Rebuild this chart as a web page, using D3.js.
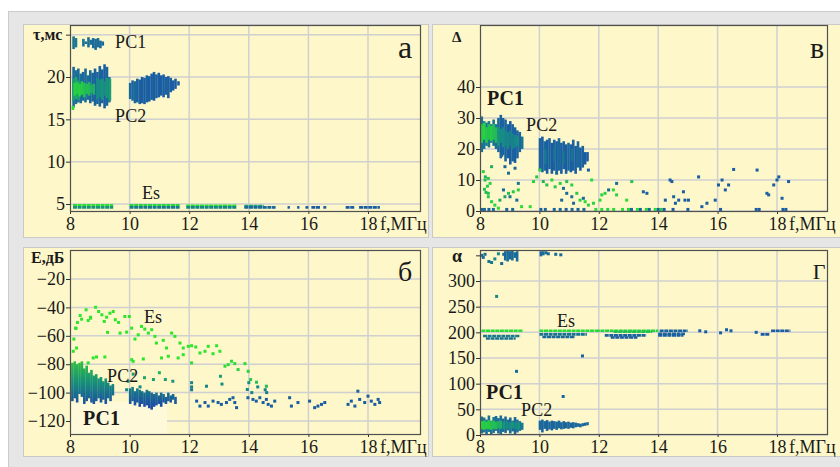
<!DOCTYPE html>
<html>
<head>
<meta charset="utf-8">
<script src="https://cdn.jsdelivr.net/npm/d3@7/dist/d3.min.js"></script>
<style>
body { margin: 0; background: #fff; }
text { font-family: "Liberation Serif", "DejaVu Serif", serif; fill: #1a1a1a; }
</style>
</head>
<body>
<svg id="chart" width="840" height="467"></svg>
<script>
// ticks
var fTicks = [8, 10, 12, 14, 16, 18];
var tauTicks = [5, 10, 15, 20, 25];
var deltaTicks = [0, 10, 20, 30, 40];
var eTicks = [-120, -100, -80, -60, -40, -20];
var alphaTicks = [0, 50, 100, 150, 200, 250, 300, 350];

// panel a: tau(f)   columns [f, lo, hi, c]  (c: 0 blue .. 1 green)
var tauPC1 = [[8.12,23.3,24.8,0.3],[8.2,23.5,24.6,0.35],[8.45,23.6,24.5,0.3],[8.53,23.9,24.2,0.25],
  [8.62,23.5,24.7,0.25],[8.7,23.8,24.4,0.3],[8.78,23.4,24.6,0.2],[8.86,23.2,24.5,0.2],
  [8.94,23.5,24.6,0.25],[9.02,23.4,24.3,0.2],[9.1,23.7,24.2,0.2]];
var tauPC2 = [[8.12,16.4,21.2,0.2],[8.2,16.8,20.8,0.25],[8.28,17.0,21.0,0.2],[8.36,16.9,20.4,0.25],
  [8.44,17.2,20.6,0.2],[8.52,17.0,21.0,0.2],[8.6,17.3,20.2,0.25],[8.68,16.9,20.8,0.2],
  [8.76,17.1,20.5,0.15],[8.84,16.6,21.0,0.15],[8.92,16.8,20.6,0.15],[9.0,16.5,21.3,0.15],
  [9.08,16.9,20.9,0.15],[9.16,16.3,21.5,0.1],[9.24,16.6,21.2,0.15],[9.32,17.0,20.0,0.3],
  [8.12,17.2,19.8,0.6],[8.2,17.4,20.0,0.65],[8.28,17.3,19.6,0.6],[8.92,17.4,19.9,0.5],
  [9.0,17.6,19.7,0.5],[9.08,17.3,19.8,0.55],[9.16,17.8,19.5,0.5],[9.24,17.5,19.9,0.55],[9.34,17.2,19.8,0.6],
  [8.16,17.8,19.3,0.9],[8.24,18.0,19.4,0.85],[8.32,17.7,19.2,0.9],[8.4,17.9,19.5,0.85],
  [8.48,17.6,19.3,0.8],[8.56,18.0,19.2,0.8],[8.64,17.8,19.4,0.75],[8.72,18.1,19.1,0.7],[8.8,17.9,19.2,0.7],
  [8.1,16.1,16.6,0.95],
  [10.02,17.4,19.3,0.2],[10.1,17.2,19.6,0.15],[10.18,16.9,19.5,0.2],[10.26,17.0,19.8,0.1],
  [10.34,16.8,19.7,0.15],[10.42,16.9,20.0,0.1],[10.5,16.8,19.9,0.1],[10.58,17.0,20.2,0.15],
  [10.66,17.1,20.1,0.1],[10.74,17.3,20.4,0.1],[10.82,17.2,20.6,0.1],[10.9,17.5,20.3,0.15],
  [10.98,17.6,20.5,0.1],[11.06,17.8,20.2,0.1],[11.14,17.6,20.3,0.1],[11.22,17.9,20.0,0.15],
  [11.3,17.5,20.1,0.1],[11.38,18.2,19.9,0.1],[11.46,18.4,19.6,0.1],[11.54,18.6,19.8,0.1],[11.64,19.0,19.5,0.1]];
// Es runs [f0, f1, value, c]
var tauEs = [[8.1,9.45,4.85,0.95],[8.1,9.45,4.6,0.55],[10.0,11.7,4.85,0.9],[10.0,11.7,4.6,0.35],
  [11.9,13.6,4.8,0.95],[11.9,13.6,4.6,0.45],[13.85,14.5,4.75,0.6],[13.85,14.9,4.6,0.2],
  [15.3,15.38,4.6,0.1],[15.62,15.7,4.6,0.1],[15.9,16.0,4.6,0.1],[16.1,16.4,4.6,0.1],
  [16.5,16.6,4.6,0.1],[17.25,17.55,4.6,0.1],[17.7,18.4,4.6,0.1]];

// panel в: delta(f)
var deltaPC1 = [[8.06,19,30.5,0.3],[8.14,20,29,0.3],[8.22,21,28.5,0.3],[8.3,20.5,29,0.35],
  [8.38,22,28,0.3],[8.46,21,29.5,0.3],[8.54,20,28,0.25],[8.62,19,30,0.2],[8.7,17,31,0.15],
  [8.78,18,30,0.15],[8.86,16,29.5,0.15],[8.94,17,28,0.1],[9.02,15,29,0.1],[9.1,16,28,0.15],
  [9.18,15.5,27,0.1],[9.26,17,26,0.15],[9.34,19,25.5,0.2],[9.42,20,24,0.3],
  [8.06,22,28,0.85],[8.14,23,28.5,0.9],[8.22,22,27,0.85],[8.3,23,28,0.8],[8.38,22.5,27.5,0.85],
  [8.46,23,28,0.8],[8.54,22,27,0.75],[8.62,21,27,0.55],[8.7,22,26.5,0.5],[8.78,20.5,27,0.5],
  [8.86,21,26,0.45],[8.94,20,25.5,0.45],[9.02,21,26,0.4],[9.1,20,25,0.4],[9.18,20.5,24.5,0.45],[9.26,21,24,0.5]];
var deltaPC2 = [[10.02,13,23.5,0.15],[10.1,12.5,24,0.1],[10.18,13,22.5,0.2],[10.26,12,23,0.1],
  [10.34,13.5,23.5,0.15],[10.42,12,22,0.1],[10.5,13,23,0.15],[10.58,12.5,22.5,0.1],
  [10.66,13,23.5,0.2],[10.74,12,22,0.1],[10.82,13.5,22.5,0.15],[10.9,12,21.5,0.1],
  [10.98,13,22,0.2],[11.06,12.5,21.5,0.1],[11.14,13,23,0.15],[11.22,12,21,0.1],
  [11.3,14,22.5,0.2],[11.38,13,20.5,0.1],[11.46,14,21,0.15],[11.54,15,19,0.1],[11.62,16,19,0.1],
  [10.2,15,20,0.35],[10.5,16,20.5,0.3],[10.8,15,19.5,0.35],[11.1,16,20,0.3]];
// scattered points [f, value, c]
var deltaPoints = [[8.11,12.7,0.9],[8.17,10,0.8],[8.28,10.5,0.85],[8.34,8.9,0.9],[8.39,14.3,0.7],
  [8.28,5.7,0.8],[8.28,4.6,0.85],[8.39,3,0.9],[8.5,1.9,0.9],[8.62,0.9,0.95],[8.67,3.5,0.7],
  [8.84,4.6,0.6],[8.96,5.7,0.8],[9.12,6.2,0.85],[9.29,6.8,0.9],[9.4,1.4,0.95],[9.69,1.4,0.95],
  [9.8,9.5,0.9],[9.91,11,0.85],[10.02,13.2,0.9],[10.13,9.5,0.7],[10.25,8.4,0.8],[10.42,10,0.9],
  [10.53,7.8,0.85],[10.7,8.9,0.9],[10.92,9.5,0.8],[11.09,8.4,0.9],[11.26,5.7,0.85],[11.37,3.5,0.9],
  [11.54,3,0.95],[11.65,1.9,0.9],[11.76,10,0.95],[11.82,2.5,0.9],[12.04,3.5,0.95],[12.1,5.2,0.9],
  [12.21,5.7,0.9],[12.49,6.8,0.95],[12.6,5.2,0.9],[13.11,9.5,0.8],[12.94,3.5,0.95],
  [8.15,7,0.8],[8.2,6,0.75],[8.25,8,0.85],[8.18,11,0.7],
  [11.9,0.5,0.95],[12.1,0.5,0.95],[12.3,0.5,0.9],[12.5,0.5,0.95],[12.8,0.5,0.95],[13.0,0.5,0.9],
  [13.3,0.5,0.95],[13.6,0.5,0.9],[13.9,0.5,0.95],[14.1,0.5,0.85],
  [8.73,18,0.2],[8.84,14.3,0.15],[8.96,12.2,0.25],[9.18,13.8,0.2],[9.29,8.9,0.3],[9.01,4.6,0.3],
  [8.79,6.8,0.2],[9.24,3.5,0.2],[10.58,12.2,0.2],[10.81,7.3,0.25],[10.92,5.7,0.2],[10.75,3.5,0.2],
  [11.09,4.6,0.3],[11.15,2.5,0.2],[11.65,13.2,0.1],[11.48,4.1,0.2],[12.33,6.8,0.2],[12.6,8.9,0.25],
  [13.5,6.2,0.15],[13.62,5.7,0.15],[14.24,3.5,0.1],[14.4,10,0.1],[14.46,9.5,0.1],[14.52,4.6,0.15],
  [14.58,2.5,0.1],[14.69,3.5,0.1],[14.85,6.2,0.1],[14.9,3.5,0.1],[15.02,3.5,0.1],[15.36,11,0.1],
  [15.47,1.4,0.1],[15.64,2.5,0.1],[15.92,3.5,0.1],[16.03,8.4,0.1],[16.15,10,0.1],[16.26,6.8,0.1],
  [16.37,8.4,0.1],[16.54,13.4,0.1],[17.33,13.2,0.1],[17.66,5.7,0.15],[17.72,5.2,0.15],[17.89,8.4,0.1],
  [18.0,10,0.1],[18.06,11,0.1],[18.17,4.1,0.1],[18.39,9.5,0.1],
  [8.05,0.5,0.2],[8.15,0.5,0.2],[8.3,0.5,0.15],[8.45,0.5,0.2],[8.9,0.5,0.15],[9.1,0.5,0.2],
  [10.05,0.5,0.15],[10.2,0.5,0.2],[10.5,0.5,0.15],[10.7,0.5,0.2],[10.9,0.5,0.15],[11.1,0.5,0.2],
  [11.3,0.5,0.15],[11.5,0.5,0.2],[13.1,0.5,0.2],[13.4,0.5,0.15],[13.7,0.5,0.2],[14.0,0.5,0.15],
  [14.2,0.5,0.1],[14.5,0.5,0.1],[15.0,0.5,0.1],[16.1,0.5,0.1],[17.3,0.5,0.1],[17.4,0.5,0.1],
  [18.2,0.5,0.1],[18.3,0.5,0.1]];

// panel б: E(f)   columns [f, lo, hi] coloured by E
var ePC = [[8.08,-106,-79],[8.16,-104,-78],[8.24,-107,-80],[8.32,-101,-79],[8.4,-103,-78],
  [8.48,-108,-83],[8.56,-106,-81],[8.64,-104,-86],[8.72,-107,-84],[8.8,-108,-88],[8.88,-106,-87],
  [8.96,-104,-90],[9.04,-107,-89],[9.12,-105,-92],[9.2,-108,-90],[9.28,-104,-93],[9.36,-106,-95],[9.44,-102,-94],
  [10.02,-108,-97],[10.1,-106,-96],[10.18,-109,-99],[10.26,-107,-97],[10.34,-110,-98],[10.42,-108,-99],
  [10.5,-110,-100],[10.58,-109,-98],[10.66,-111,-99],[10.74,-112,-100],[10.82,-110,-101],[10.9,-109,-100],
  [10.98,-108,-102],[11.06,-110,-100],[11.14,-107,-101],[11.22,-108,-103],[11.3,-106,-100],
  [11.38,-107,-102],[11.46,-105,-101],[11.54,-108,-103]];
var ePoints = [[8.13,-62.3,1],[8.19,-54.6,1],[8.25,-50.6,1],[8.39,-48.3,1],[8.54,-41.7,1],[8.61,-49.2,1],
  [8.69,-47.6,1],[8.86,-39.9,1],[8.96,-42.9,1],[9.07,-45.2,1],[9.15,-49.9,1],[9.26,-57.6,1],
  [9.34,-44.1,1],[9.45,-42.9,1],[9.52,-48.7,1],[9.63,-50.6,1],[9.84,-46.4,1],[9.99,-46.4,1],
  [9.68,-58.1,1],[9.9,-57.4,1],[10.07,-54.6,1],[10.18,-62.3,1],[10.29,-59.3,1],[10.4,-53.4,1],
  [10.51,-55.3,1],[10.63,-58.1,1],[10.74,-55.7,1],[10.85,-60.4,1],[10.9,-65.1,1],[11.13,-63.2,1],
  [11.24,-68.6,1],[11.41,-58.1,1],[11.52,-60.4,1],[11.69,-65.1,1],[11.8,-68.6,1],[11.97,-67.4,1],
  [12.08,-67,1],[12.22,-67.9,1],[12.36,-72.1,1],[12.53,-70.9,1],[12.64,-67.4,1],[12.8,-72.6,1],
  [12.92,-67,1],[13.03,-70.9,1],[13.2,-81.4,0.95],[13.31,-80.3,0.95],[13.42,-77.9,0.95],[13.53,-79.6,0.95],
  [13.64,-83.8,0.9],[13.87,-79.6,0.95],[13.98,-85,0.9],[14.06,-90.8,0.85],[14.26,-92.7,0.8],[14.59,-95.5,0.75],
  [8.11,-70.9,1],[8.22,-68.6,1],[8.61,-79.1,0.95],[8.78,-75.6,1],[8.89,-74.9,1],[9.17,-74.9,1],
  [10.07,-76.8,1],[10.12,-78,1],[10.46,-76.3,1],[11.07,-75.6,1],[11.3,-74.4,1],[11.63,-75.6,1],
  [11.8,-73.3,1],[12.08,-79.1,0.95],[8.2,-54.8,1],[8.34,-45.7,1],[8.69,-46.9,1],[9.23,-46.9,1],
  [10.12,-87,0.6],[10.5,-89.5,0.65],[10.8,-90.8,0.6],[11.0,-86,0.7],[11.2,-90.8,0.6],[11.45,-92,0.55],
  [10.35,-96,0.45],[12.08,-93,0.45],[12.08,-96,0.4],[12.08,-98,0.35],[12.58,-95.5,0.45],[13.1,-94,0.5],
  [13.05,-88.5,0.6],[13.95,-97.8,0.45],[14.0,-93,0.5],[14.3,-96,0.45],[14.55,-98,0.4],[14.6,-100,0.35],
  [14.1,-100,0.4],[9.95,-92,0.55],[9.9,-98,0.45],
  [12.25,-106,0.1],[12.36,-109.5,0.1],[12.53,-107,0.1],[12.64,-109.5,0.1],[12.8,-106,0.1],[12.97,-107,0.1],
  [13.08,-108.3,0.1],[13.25,-107,0.1],[13.36,-104.8,0.15],[13.47,-103.6,0.15],[13.53,-107,0.1],
  [13.59,-110.6,0.1],[13.97,-103.6,0.15],[14.14,-104.8,0.1],[14.25,-106,0.1],[14.37,-103.6,0.15],
  [14.48,-107,0.1],[14.59,-104.8,0.1],[14.65,-108.3,0.1],[14.76,-109.5,0.1],[14.87,-106,0.1],
  [15.37,-103.6,0.1],[15.43,-109.5,0.1],[15.65,-107,0.1],[16.04,-106,0.1],[16.21,-110.6,0.1],
  [16.32,-109.5,0.1],[16.44,-108.3,0.1],[16.55,-107,0.1],[17.33,-108.3,0.1],[17.44,-106,0.1],
  [17.56,-109.5,0.1],[17.66,-99,0.15],[17.72,-104.8,0.1],[17.89,-107,0.1],[18.0,-102.5,0.1],
  [18.11,-106,0.1],[18.23,-108.3,0.1],[18.34,-104.8,0.1],[18.39,-107,0.1]];

// panel г: alpha(f)
var alphaPC = [[8.06,3,36,0.25],[8.14,5,34,0.3],[8.22,2,30,0.25],[8.3,6,38,0.3],[8.38,1,28,0.25],
  [8.46,4,35,0.3],[8.54,8,37,0.25],[8.62,3,33,0.2],[8.7,2,38,0.25],[8.78,6,32,0.2],[8.86,4,36,0.2],
  [8.94,9,30,0.2],[9.02,3,34,0.2],[9.1,7,28,0.2],[9.18,2,35,0.2],[9.26,5,30,0.25],[9.34,8,27,0.3],[9.42,10,24,0.35],
  [8.06,11,27,0.9],[8.14,10,28,0.85],[8.22,12,26,0.9],[8.3,11,29,0.85],[8.38,10,27,0.8],[8.46,12,28,0.8],
  [8.54,11,26,0.75],[8.62,13,27,0.7],[8.7,12,28,0.7],[8.8,11,26,0.55],[8.9,12,27,0.5],[9.0,10,25,0.5],
  [9.1,13,26,0.55],[9.2,11,25,0.5],[9.3,12,24,0.55],
  [10.02,10,28,0.2],[10.1,5,30,0.15],[10.18,12,27,0.2],[10.26,8,29,0.15],[10.34,11,26,0.2],
  [10.42,9,28,0.15],[10.5,12,27,0.2],[10.58,10,26,0.15],[10.66,13,28,0.2],[10.74,11,25,0.15],
  [10.82,12,27,0.2],[10.9,13,25,0.15],[10.98,12,26,0.2],[11.06,14,24,0.15],[11.14,13,25,0.2],
  [11.22,15,24,0.15],[11.3,16,23,0.2],[11.38,15,22,0.15],[11.46,17,23,0.2],[11.54,18,24,0.15],[11.62,19,25,0.2],
  [8.85,340,358,0.2],[8.93,338,359,0.25],[9.01,342,358,0.2],[9.09,340,359,0.2],[9.17,345,356,0.25],
  [9.25,338,358,0.2],[10.05,348,358,0.2],[10.13,350,358,0.2]];
var alphaPoints = [[8.06,350,0.2],[8.11,346,0.2],[8.17,352,0.3],[8.3,338,0.3],[8.39,336,0.35],
  [8.5,343,0.45],[8.62,353,0.5],[8.73,334,0.2],[8.8,352,0.2],[10.22,355,0.2],[10.3,353,0.2],
  [10.55,352,0.2],[10.72,351,0.2],[8.56,270,0.45],[9.23,124,0.2],[11.45,154,0.15],[10.8,75,0.15],
  [15.4,203,0.1],[15.6,201,0.1],[16.1,199,0.1],[16.3,205,0.1],[16.45,203,0.15],[17.3,200,0.1]];
var alphaEs = [[8.05,9.45,203,0.95],[10.0,11.9,203,0.95],[11.9,14.0,203,0.9],[12.5,13.8,201,0.8],
  [8.1,9.35,193,0.35],[8.2,9.2,188,0.3],[10.0,11.6,196,0.3],[10.1,11.2,191,0.2],
  [12.2,13.6,194,0.15],[12.4,13.3,190,0.1],[14.0,14.85,194,0.1],[14.0,14.9,197,0.15],
  [14.05,15.0,203,0.15],[17.45,17.75,196,0.1],[17.8,18.45,203,0.1]];

var color = d3.scaleLinear().domain([0, 0.5, 1]).range(['#1b51a9', '#178c84', '#2de52d']);
var serif = '"Liberation Serif", "DejaVu Serif", serif';

var svg = d3.select('#chart');

// grey frame
svg.append('rect')
  .attr('x', 8.5).attr('y', 11.5)
  .attr('width', 840).attr('height', 460)
  .attr('fill', '#e6e6e6')
  .attr('stroke', '#cbcbcb');

function fmt(d) {
  return d < 0 ? '\u2212' + Math.abs(d) : String(d);
}

function panel(o) {
  var g = svg.append('g');
  g.append('rect')
    .attr('x', o.box[0] + 0.5).attr('y', o.box[1] + 0.5)
    .attr('width', o.box[2]).attr('height', o.box[3])
    .attr('fill', '#fdf7c9')
    .attr('stroke', '#c9c9c9');

  var x = d3.scaleLinear().domain([8, 18]).range(o.xr);
  var y = d3.scaleLinear().domain(o.yd).range(o.yr);
  var l = o.plot[0], t = o.plot[1], r = o.plot[2], b = o.plot[3];

  // grid
  g.selectAll('.vg').data(fTicks.slice(1)).enter()
    .append('line')
      .attr('x1', function(d) { return x(d); }).attr('x2', function(d) { return x(d); })
      .attr('y1', t).attr('y2', b)
      .attr('stroke', '#d0d0d0').attr('stroke-width', 1.5);
  g.selectAll('.hg').data(o.grid).enter()
    .append('line')
      .attr('x1', l).attr('x2', r)
      .attr('y1', function(d) { return y(d); }).attr('y2', function(d) { return y(d); })
      .attr('stroke', '#d0d0d0').attr('stroke-width', 1.5);

  if (o.extra) o.extra(g, x, y);

  var clipId = 'clip' + o.id;
  svg.append('clipPath').attr('id', clipId)
    .append('rect').attr('x', l).attr('y', t).attr('width', r - l).attr('height', b - t);
  var marks = g.append('g').attr('clip-path', 'url(#' + clipId + ')');

  // Es runs
  marks.selectAll('.run').data(o.runs || []).enter()
    .append('line')
      .attr('x1', function(d) { return x(d[0]); })
      .attr('x2', function(d) { return x(d[1]); })
      .attr('y1', function(d) { return y(d[2]); })
      .attr('y2', function(d) { return y(d[2]); })
      .attr('stroke', function(d) { return color(d[3]); })
      .attr('stroke-width', 2.6)
      .attr('stroke-dasharray', '4 0.6');

  // dense clusters as columns
  marks.selectAll('.col').data(o.cols || []).enter()
    .append('rect')
      .attr('x', function(d) { return x(d[0]) - 1.3; })
      .attr('width', 2.6)
      .attr('y', function(d) { return y(d[2]); })
      .attr('height', function(d) { return Math.max(2.6, y(d[1]) - y(d[2])); })
      .attr('fill', function(d) { return o.colFill ? o.colFill : color(d[3]); });

  // scattered points
  marks.selectAll('.pt').data(o.points || []).enter()
    .append('rect')
      .attr('x', function(d) { return x(d[0]) - 1.5; })
      .attr('y', function(d) { return y(d[1]) - 1.5; })
      .attr('width', 3).attr('height', 3)
      .attr('fill', function(d) { return color(d[2]); });

  // plot border
  g.append('rect')
    .attr('x', l + 0.5).attr('y', t + 0.5)
    .attr('width', r - l - 1).attr('height', b - t - 1)
    .attr('fill', 'none').attr('stroke', '#505050').attr('stroke-width', 1.2);

  // axes
  var ya = g.append('g').attr('transform', 'translate(' + l + ',0)')
    .call(d3.axisLeft(y).tickValues(o.yTicks).tickSize(4).tickPadding(1)
      .tickFormat(function(d) { return o.hideTick === d ? '' : fmt(d); }));
  var xa = g.append('g').attr('transform', 'translate(0,' + b + ')')
    .call(d3.axisBottom(x).tickValues(fTicks).tickSize(2).tickPadding(3));
  [ya, xa].forEach(function(a) {
    a.attr('font-family', serif).attr('font-size', 18);
    a.select('.domain').remove();
    a.selectAll('line').attr('stroke', '#333');
    a.selectAll('text')
      .style('font-family', serif)
      .style('font-size', '18px')
      .attr('fill', '#1a1a1a');
  });

  g.append('text')
    .attr('x', x(18) + 12).attr('y', b + 18)
    .style('font-size', '18px')
    .text('f,МГц');

  g.append('text')
    .attr('x', o.yName[1]).attr('y', o.yName[2])
    .style('font-size', o.yName[3] + 'px')
    .style('font-weight', 'bold')
    .text(o.yName[0]);

  g.append('text')
    .attr('x', o.letter[1]).attr('y', o.letter[2])
    .attr('text-anchor', 'middle')
    .style('font-size', o.letter[3] + 'px')
    .text(o.letter[0]);

  (o.labels || []).forEach(function(s) {
    g.append('text')
      .attr('x', s[1]).attr('y', s[2])
      .style('font-size', s[3] + 'px')
      .style('font-weight', s[4] ? 'bold' : 'normal')
      .text(s[0]);
  });
}

panel({
  id: 'a', box: [23, 24, 405, 213], plot: [70, 25, 421, 212],
  xr: [70, 368], yd: [5, 20], yr: [204, 77],
  yTicks: tauTicks, grid: tauTicks, hideTick: 25,
  cols: tauPC1.concat(tauPC2), runs: tauEs,
  yName: ['τ,мс', 33, 40, 16], letter: ['а', 405, 58, 32],
  labels: [['РС1', 115, 48, 18], ['РС2', 115, 122, 18], ['Es', 142, 199, 18]]
});

panel({
  id: 'v', box: [432, 24, 412, 213], plot: [480, 25, 828, 212],
  xr: [480, 777], yd: [0, 40], yr: [211, 87],
  yTicks: deltaTicks, grid: deltaTicks,
  cols: deltaPC1.concat(deltaPC2), points: deltaPoints,
  yName: ['Δ', 452, 42, 15], letter: ['в', 817, 58, 30],
  labels: [['РС1', 487, 105, 20, true], ['РС2', 526, 131, 18]]
});

panel({
  id: 'b', box: [23, 247, 405, 209], plot: [70, 250, 421, 435],
  xr: [70, 368], yd: [-120, -20], yr: [421, 279],
  yTicks: eTicks, grid: eTicks,
  cols: ePC, points: ePoints, colFill: 'url(#eGrad)',
  extra: function(g, x, y) {
    var grad = svg.append('defs').append('linearGradient')
      .attr('id', 'eGrad').attr('gradientUnits', 'userSpaceOnUse')
      .attr('x1', 0).attr('x2', 0).attr('y1', y(-78)).attr('y2', y(-110));
    grad.append('stop').attr('offset', 0).attr('stop-color', '#33c040');
    grad.append('stop').attr('offset', 0.45).attr('stop-color', '#169078');
    grad.append('stop').attr('offset', 1).attr('stop-color', '#1b48a6');
    g.append('rect')
      .attr('x', 70).attr('y', 402).attr('width', 97).attr('height', 33)
      .attr('fill', '#fef9d8');
  },
  yName: ['Е,дБ', 31, 263, 16], letter: ['б', 405, 281, 28],
  labels: [['Es', 144, 323, 18], ['РС2', 107, 382, 18], ['РС1', 83, 425, 20, true]]
});

panel({
  id: 'g', box: [432, 247, 412, 209], plot: [480, 250, 828, 435],
  xr: [480, 777], yd: [0, 300], yr: [435, 281],
  yTicks: alphaTicks, grid: alphaTicks.slice(0, 7), hideTick: 350,
  cols: alphaPC, points: alphaPoints, runs: alphaEs,
  yName: ['α', 452, 262, 18], letter: ['Г', 819, 279, 22],
  labels: [['Es', 557, 327, 18], ['РС1', 486, 399, 20, true], ['РС2', 521, 416, 18]]
});
</script>
</body>
</html>
